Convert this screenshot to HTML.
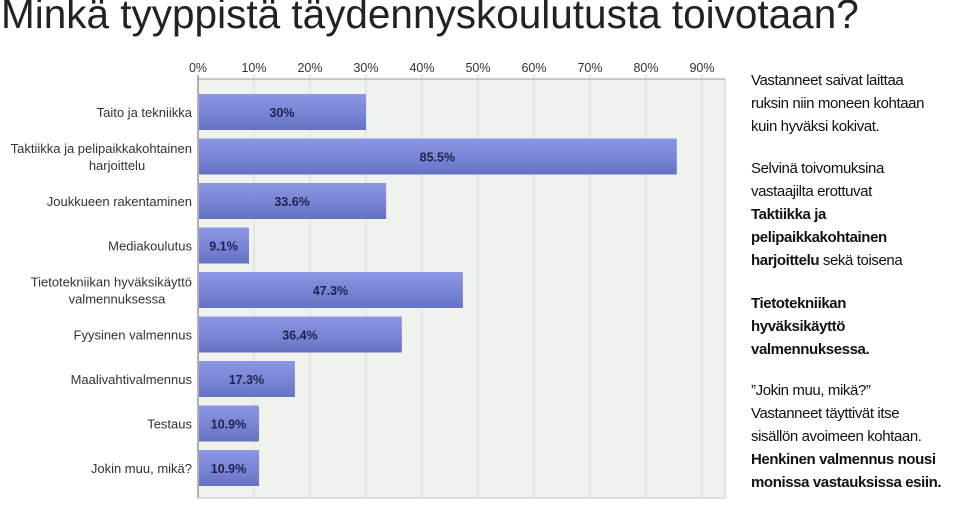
<!DOCTYPE html>
<html><head><meta charset="utf-8"><style>
body{margin:0;width:960px;height:505px;background:#fff;overflow:hidden;position:relative;font-family:"Liberation Sans",sans-serif}
#title{position:absolute;left:1px;top:-9px;font-size:40.5px;color:#222;white-space:nowrap;margin:0;font-weight:normal}
#notes{position:absolute;left:751px;top:69px;font-size:15px;line-height:23px;color:#111;white-space:nowrap;letter-spacing:-0.4px}
#notes p{margin:0}
svg{position:absolute;left:0;top:0}
</style></head><body>
<h1 id="title">Minkä tyyppistä täydennyskoulutusta toivotaan?</h1>
<svg id="chart" width="740" height="505"></svg>
<div id="notes">
<p>Vastanneet saivat laittaa<br>ruksin niin moneen kohtaan<br>kuin hyväksi kokivat.</p>
<p style="margin-top:19px">Selvinä toivomuksina<br>vastaajilta erottuvat<br><b>Taktiikka ja</b><br><b>pelipaikkakohtainen</b><br><b>harjoittelu</b> sekä toisena</p>
<p style="margin-top:20px"><b>Tietotekniikan</b><br><b>hyväksikäyttö</b><br><b>valmennuksessa.</b></p>
<p style="margin-top:18px">”Jokin muu, mikä?”<br>Vastanneet täyttivät itse<br>sisällön avoimeen kohtaan.<br><b>Henkinen valmennus nousi</b><br><b>monissa vastauksissa esiin.</b></p>
</div>
<script>
const categories=[["Taito ja tekniikka"],["Taktiikka ja pelipaikkakohtainen","harjoittelu"],["Joukkueen rakentaminen"],["Mediakoulutus"],["Tietotekniikan hyväksikäyttö","valmennuksessa"],["Fyysinen valmennus"],["Maalivahtivalmennus"],["Testaus"],["Jokin muu, mikä?"]];
const values=[30,85.5,33.6,9.1,47.3,36.4,17.3,10.9,10.9];
const valueLabels=["30%","85.5%","33.6%","9.1%","47.3%","36.4%","17.3%","10.9%","10.9%"];
const ticks=[0,10,20,30,40,50,60,70,80,90];
const NS="http://www.w3.org/2000/svg";
const svg=document.getElementById('chart');
const x0=198,pxPer=5.6,top0=79,bottom=498,right=725,firstC=112,rowH=44.5;
const xs=v=>x0+v*pxPer;
function mk(t,a,p){const e=document.createElementNS(NS,t);for(const k in a)e.setAttribute(k,a[k]);(p||svg).appendChild(e);return e;}
svg.innerHTML='<defs><linearGradient id="g" x1="0" y1="0" x2="0" y2="1"><stop offset="0" stop-color="#8c97e4"/><stop offset="0.5" stop-color="#7a86d6"/><stop offset="1" stop-color="#6571c2"/></linearGradient></defs>';
const bg=mk('rect',{x:x0,y:top0,width:right-x0,height:bottom-top0,fill:'#f0f2ee',stroke:'#c8cac6'});


ticks.forEach(t=>{
 const l=mk('line',{x1:xs(t),x2:xs(t),y1:top0-4,y2:bottom,stroke:t?'#e0e2de':'#999','stroke-width':1.5});
 
 
 const tx=mk('text',{x:xs(t),y:72,'text-anchor':'middle','font-size':12.5,fill:'#333'});
 tx.textContent=t+'%';
 
 
});
mk('line',{x1:x0,x2:right,y1:top0,y2:top0,stroke:'#999'});
values.forEach((v,i)=>{
 const cy=firstC+rowH*i;
 const r=mk('rect',{x:x0+1,y:cy-18,width:xs(v)-x0-1,height:36,fill:'url(#g)'});
 
 
 const vl=mk('text',{x:(x0+xs(v))/2,y:cy+5,'text-anchor':'middle','font-size':12.5,'font-weight':'bold',fill:'#1c2350'});
 vl.textContent=valueLabels[i];
 
 
 const lines=categories[i];
 lines.forEach((s,j)=>{
  const multi=lines.length>1;
  const tx=mk('text',{x:multi&&j>0?(192-75):192,y:cy+5+(j-(lines.length-1)/2)*17,'text-anchor':multi&&j>0?'middle':'end','font-size':13,fill:'#333'});
  tx.textContent=s;
  
  
 });
});
</script>
</body></html>
